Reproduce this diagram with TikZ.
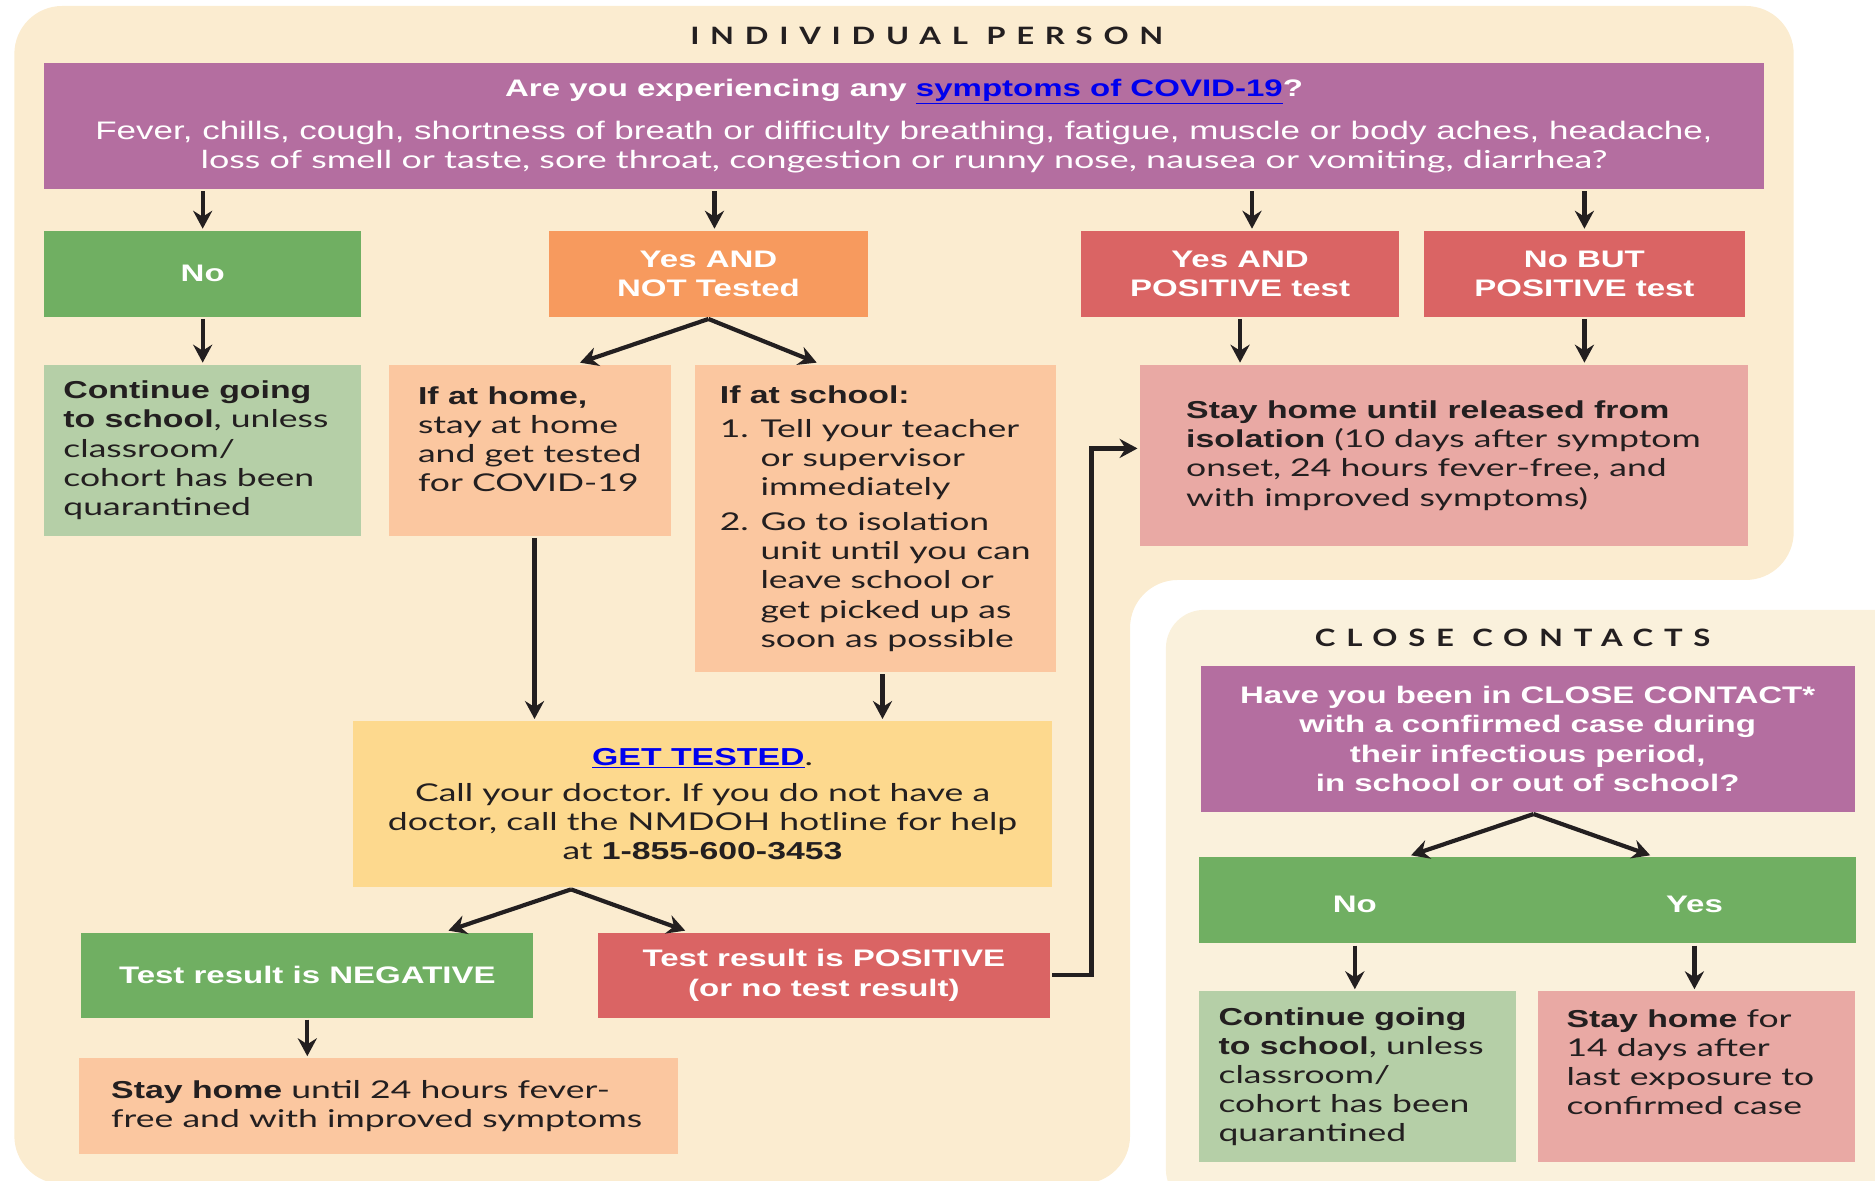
\documentclass[tikz,border=0pt]{standalone}
\usepackage{fontspec}
\setmainfont{Lato}[FakeStretch=1.45]
\newfontfamily\arialfont{Liberation Sans}[FakeStretch=1.38]
\newfontfamily\titlefont{Lato}[FakeStretch=1.3,LetterSpace=45]
\usetikzlibrary{arrows.meta}

\definecolor{bgtan}{HTML}{FBECD0}
\definecolor{cctan}{HTML}{FAF1DC}
\definecolor{purp}{HTML}{B46EA0}
\definecolor{grn}{HTML}{70AF62}
\definecolor{ltgrn}{HTML}{B5CFA7}
\definecolor{orng}{HTML}{F79A5E}
\definecolor{redb}{HTML}{DA6464}
\definecolor{peach}{HTML}{FBC7A0}
\definecolor{pinkb}{HTML}{E9A9A4}
\definecolor{yell}{HTML}{FDD98E}
\definecolor{linkblue}{HTML}{0000EE}
\definecolor{ink}{HTML}{231F20}

\newcommand{\weblink}[1]{\textcolor{linkblue}{\underline{#1}}}
\newcommand{\bsans}[1]{{\arialfont\bfseries #1}}
\frenchspacing

\begin{document}
\begin{tikzpicture}[x=1pt,y=-1pt,line width=3.5pt,
    hd/.style={rectangle,inner sep=0pt,align=center,text=white,
      font=\arialfont\bfseries\fontsize{20}{24.5}\selectfont},
    txt/.style={rectangle,inner sep=0pt,align=left,text=ink,
      font=\fontsize{20.5}{24.4}\selectfont},
    ttl/.style={text=ink,font=\titlefont\bfseries\fontsize{20}{24}\selectfont},
    arr/.style={draw=ink,-{Stealth[length=15pt,width=16pt,inset=5pt]}}]
      \useasboundingbox (0,0) rectangle (1568,987.6);

      % backgrounds
      \fill[bgtan,rounded corners=40pt] (12,5) -- (1500,5) -- (1500,485) -- (945,485)
        -- (945,990) -- (12,990) -- cycle;
      \fill[cctan,rounded corners=32pt] (975,510) -- (1610,510) -- (1610,1010) -- (975,1010) -- cycle;

      % individual person
      \path (775,30) node[ttl] (t1) {INDIVIDUAL PERSON};
      \path (756,105.5) node[hd,fill=purp,minimum width=1438pt,minimum height=105pt] (q)
        {Are you experiencing any \weblink{symptoms of COVID-19}?\\[11pt]
         {\mdseries\fontsize{21.2}{24}\selectfont Fever, chills, cough, shortness of breath or difficulty breathing, fatigue, muscle or body aches, headache,}\\
         {\rmfamily\mdseries\fontsize{20.7}{24}\selectfont loss of smell or taste, sore throat, congestion or runny nose, nausea or vomiting, diarrhea?}};

      \path (169.5,229) node[hd,fill=grn,minimum width=265pt,minimum height=72pt] (no) {No};
      \path (592.5,229) node[hd,fill=orng,minimum width=267pt,minimum height=72pt] (yesnot) {Yes AND\\NOT Tested};
      \path (1037,229) node[hd,fill=redb,minimum width=266pt,minimum height=72pt] (yespos) {Yes AND\\POSITIVE test};
      \path (1325,229) node[hd,fill=redb,minimum width=268pt,minimum height=72pt] (nopos) {No BUT\\POSITIVE test};

      \path (169.5,376.5) node[txt,fill=ltgrn,minimum width=265pt,minimum height=143pt] (cont)
        {\makebox[233pt][l]{\bsans{Continue going}}\\\bsans{to school}, unless\\classroom/\\cohort has been\\quarantined};
      \path (443,376.5) node[txt,fill=peach,minimum width=236pt,minimum height=143pt] (home)
        {\makebox[184pt][l]{\bsans{If at home,}}\\stay at home\\and get tested\\for COVID-19\\[-6pt]\mbox{}};
      \path (732,433.5) node[txt,fill=peach,minimum width=302pt,minimum height=257pt] (school)
        {\makebox[260pt][l]{\bsans{If at school:}}\\[4.5pt]
         \makebox[34pt][l]{1.}Tell your teacher\\
         \hspace*{34pt}or supervisor\\
         \hspace*{34pt}immediately\\[4.5pt]
         \makebox[34pt][l]{2.}Go to isolation\\
         \hspace*{34pt}unit until you can\\
         \hspace*{34pt}leave school or\\
         \hspace*{34pt}get picked up as\\
         \hspace*{34pt}soon as possible};
      \path (1207.5,381) node[txt,fill=pinkb,minimum width=509pt,minimum height=152pt] (release)
        {\makebox[431pt][l]{\bsans{Stay home until released from}}\\\bsans{isolation} (10 days after symptom\\onset, 24 hours fever-free, and\\with improved symptoms)};

      \path (587.5,672.5) node[txt,align=center,fill=yell,minimum width=585pt,minimum height=139pt] (gt)
        {\bsans{\weblink{GET TESTED}}.\\[6pt]
         Call your doctor. If you do not have a\\
         doctor, call the NMDOH hotline for help\\
         at \bsans{1-855-600-3453}};
      \path (257,815.5) node[hd,fill=grn,minimum width=378pt,minimum height=71pt] (neg) {Test result is NEGATIVE};
      \path (689,815.5) node[hd,fill=redb,minimum width=378pt,minimum height=71pt] (pos) {Test result is POSITIVE\\(or no test result)};
      \path (316.5,925) node[txt,fill=peach,minimum width=501pt,minimum height=80pt] (stay)
        {\makebox[447pt][l]{\bsans{Stay home} until 24 hours fever-}\\free and with improved symptoms};

      % close contacts
      \path (1265,533) node[ttl] (t2) {CLOSE CONTACTS};
      \path (1277.5,618) node[hd,fill=purp,minimum width=547pt,minimum height=122pt] (ccq)
        {Have you been in CLOSE CONTACT*\\with a confirmed case during\\their infectious period,\\in school or out of school?};
      \path (1277.5,753) node[hd,fill=grn,minimum width=549pt,minimum height=72pt] (ccbar) {};
      \path (1133,756) node[hd] (ccno) {No};
      \path (1417,756) node[hd] (ccyes) {Yes};
      \path (1135.5,900.5) node[txt,fill=ltgrn,minimum width=265pt,minimum height=143pt] (cccont)
        {\makebox[233pt][l]{\bsans{Continue going}}\\\bsans{to school}, unless\\classroom/\\cohort has been\\quarantined};
      \path (1418.5,900.5) node[txt,fill=pinkb,minimum width=265pt,minimum height=143pt] (ccstay)
        {\makebox[217pt][l]{\bsans{Stay home} for}\\14 days after\\last exposure to\\confirmed case\\[0pt]\mbox{}};

      \draw[arr] (q.south -| no) -- (no); %q-no
      \draw[arr] ([xshift=5pt]yesnot.north |- q.south) -- ([xshift=5pt]yesnot.north); %q-yesnot
      \draw[arr] ([xshift=10pt]yespos.north |- q.south) -- ([xshift=10pt]yespos.north); %q-yespos
      \draw[arr] (nopos.north |- q.south) -- (nopos.north); %q-nopos
      \draw[arr] (no) -- (cont); %no-cont
      \draw[arr] (yesnot.south) -- ([xshift=42pt]home.north); %yesnot-home
      \draw[arr] (yesnot.south) -- ([xshift=-49pt]school.north); %yesnot-school
      \draw[arr] (yespos.south) -- (yespos.south |- release.north); %yespos-release
      \draw[arr] (nopos.south) -- (nopos.south |- release.north); %nopos-release
      \draw[arr] ([xshift=4pt]home.south) -- ([xshift=4pt]home.south |- gt.north); %home-gt
      \draw[arr] ([xshift=6pt]school.south) -- ([xshift=6pt]school.south |- gt.north); %school-gt
      \draw[arr] ([xshift=-110pt]gt.south) -- ([xshift=118pt]neg.north); %gt-neg
      \draw[arr] ([xshift=-110pt]gt.south) -- ([xshift=-116pt]pos.north); %gt-pos
      \draw[arr] (pos.east) -- ++(33,0) |- ([yshift=6pt]release.west); %pos-release
      \draw[arr] (neg.south) -- (neg.south |- stay.north); %neg-stay
      \draw[arr] ([xshift=5pt]ccq.south) -- ([xshift=47pt]ccno |- ccbar.north); %ccq-no
      \draw[arr] ([xshift=5pt]ccq.south) -- ([xshift=-37pt]ccyes |- ccbar.north); %ccq-yes
      \draw[arr] (ccno |- ccbar.south) -- (ccno |- cccont.north); %no-cccont
      \draw[arr] (ccyes |- ccbar.south) -- (ccyes |- ccstay.north); %yes-ccstay

\end{tikzpicture}
\end{document}
